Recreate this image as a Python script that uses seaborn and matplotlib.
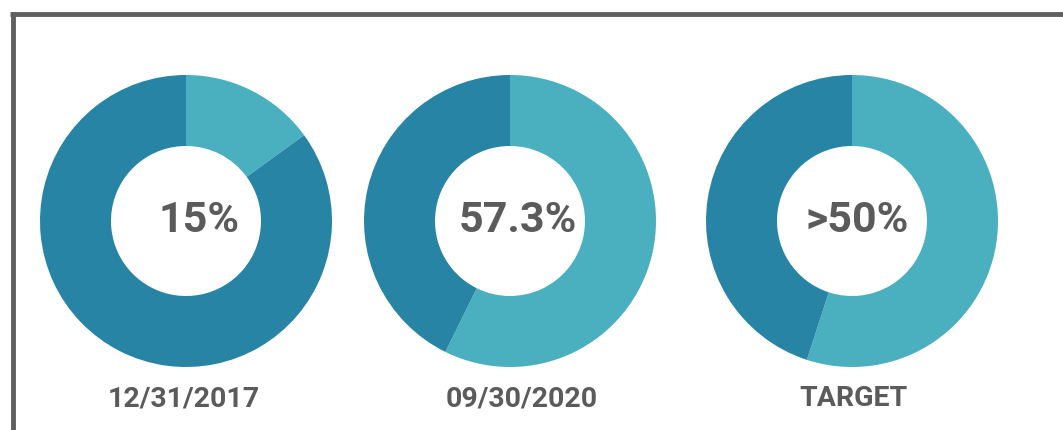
import matplotlib
matplotlib.use("Agg")
import matplotlib.pyplot as plt
from matplotlib.lines import Line2D
import seaborn as sns

# Data
labels = ["12/31/2017", "09/30/2020", "TARGET"]
shares = [15.0, 57.3, 55.0]          # light-teal share (%)
center_text = ["15%", "57.3%", ">50%"]

light = "#4AAFBE"
dark = "#2784A5"
text_col = "#5B5B5B"
border_col = "#5F5F5F"

sns.set_theme(style="white")
plt.rcParams["font.family"] = ["Roboto", "DejaVu Sans"]

W, H = 1063, 431
fig = plt.figure(figsize=(W / 100, H / 100), dpi=100)
fig.patch.set_facecolor("white")

centers_x = [186, 510, 852]
text_x = [199, 518, 857]
label_x = [184, 522, 854]
cy = 222
half = 150
R_out, R_in = 146, 75

for cx, tx, lx, lab, s, txt in zip(centers_x, text_x, label_x, labels, shares, center_text):
    ax = fig.add_axes([(cx - half) / W, (H - cy - half) / H, 2 * half / W, 2 * half / H])
    ax.pie([s, 100 - s], colors=[light, dark], startangle=90, counterclock=False,
           radius=R_out, wedgeprops=dict(width=R_out - R_in, linewidth=0))
    ax.set_xlim(-half, half)
    ax.set_ylim(-half, half)
    ax.set_aspect("equal")
    ax.axis("off")
    fig.text(tx / W, (H - 221) / H, txt, ha="center", va="center", fontsize=31,
             fontweight="bold", color=text_col)
    fig.text(lx / W, (H - 399) / H, lab, ha="center", va="center", fontsize=20.5,
             fontweight="bold", color=text_col)

# Border (top and left)
fig.add_artist(Line2D([10 / W, 1.0], [(H - 15) / H, (H - 15) / H],
                      transform=fig.transFigure, color=border_col, linewidth=3.5,
                      solid_capstyle="butt"))
fig.add_artist(Line2D([12.5 / W, 12.5 / W], [0, (H - 13) / H],
                      transform=fig.transFigure, color=border_col, linewidth=3.5,
                      solid_capstyle="butt"))

fig.savefig("out.png", dpi=100, facecolor="white")
